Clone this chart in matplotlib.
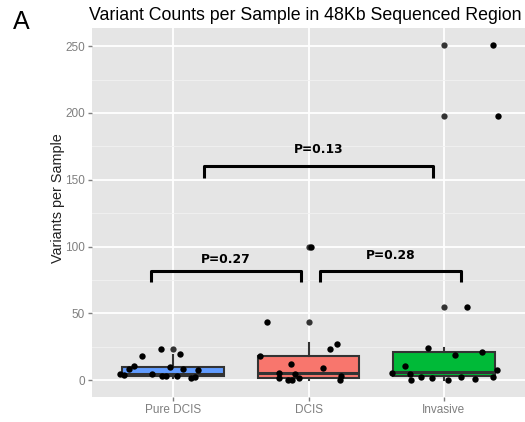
import matplotlib
matplotlib.use('Agg')
import matplotlib.pyplot as plt
from matplotlib.ticker import MultipleLocator

# Categories and colours of the boxes
groups = ["Pure DCIS", "DCIS", "Invasive"]
box_colors = ["#619CFF", "#F8766D", "#00BA38"]

# Box statistics: q1, median, q3, whisker low, whisker high
q1 = [3.5, 2.0, 3.0]
medians = [5.0, 5.5, 6.5]
q3 = [10.0, 18.3, 21.0]
whis_lo = [1.5, 0.0, 0.5]
whis_hi = [19.0, 28.2, 24.3]
outliers = [[23.5], [43.8, 100.0], [55.0, 197.6, 250.5]]

# Jittered sample points: horizontal offset from the category and value
pure_dx = [-0.39, -0.36, -0.33, -0.29, -0.23, -0.16, -0.09, -0.08,
           -0.05, -0.02, 0.03, 0.05, 0.07, 0.13, 0.16, 0.18]
pure_val = [5.0, 3.7, 8.2, 10.5, 18.0, 4.3, 23.5, 2.8,
            3.5, 9.7, 2.8, 19.3, 8.5, 1.5, 2.2, 8.0]
dcis_dx = [-0.31, -0.36, -0.13, -0.22, -0.22, -0.15, -0.12, -0.10,
           -0.07, 0.11, 0.16, 0.21, 0.24, 0.23, 0.015]
dcis_val = [43.8, 18.0, 12.2, 5.5, 1.8, 0.5, 0.0, 4.7,
            1.3, 8.8, 23.5, 27.2, 3.0, 0.0, 100.0]
inv_dx = [-0.38, -0.29, -0.25, -0.24, -0.17, -0.12, -0.09, 0.03, 0.08,
          0.13, 0.23, 0.28, 0.36, 0.39, 0.17, 0.36, 0.40]
inv_val = [5.5, 11.0, 4.7, 0.5, 2.5, 24.3, 1.3, 0.5, 18.8,
           2.5, 0.8, 20.8, 2.5, 7.3, 55.0, 250.5, 197.6]

# P-value comparisons: (left group pos, right group pos, label)
comparisons = [(0.835, 1.946, "P=0.27"), (2.087, 3.124, "P=0.28"), (1.23, 2.92, "P=0.13")]
bracket_top = [82, 82, 160.4]
bracket_leg = [73.3, 73.3, 151.4]
label_y = [90.3, 93.3, 172.9]

plt.rcParams['font.family'] = ['Liberation Sans', 'DejaVu Sans']

fig = plt.figure(figsize=(5.25, 4.22), dpi=100)
ax = fig.add_axes([92 / 525, 25 / 422, 1 - 92 / 525, (397 - 28) / 422])
ax.set_facecolor("#E5E5E5")
for s in ax.spines.values():
    s.set_visible(False)

positions = [1, 2, 3]
stats = []
for i, g in enumerate(groups):
    stats.append(dict(label=g, q1=q1[i], med=medians[i], q3=q3[i],
                      whislo=whis_lo[i], whishi=whis_hi[i], fliers=outliers[i]))

bp = ax.bxp(stats, positions=positions, widths=0.75, patch_artist=True,
            showcaps=False,
            boxprops=dict(edgecolor="#333333", linewidth=1.5),
            medianprops=dict(color="#333333", linewidth=2.2),
            whiskerprops=dict(color="#333333", linewidth=1.5),
            flierprops=dict(marker="o", markerfacecolor="#333333",
                            markeredgecolor="none", markersize=4.5))
for patch, c in zip(bp['boxes'], box_colors):
    patch.set_facecolor(c)
for art in bp['boxes'] + bp['medians'] + bp['whiskers'] + bp['fliers']:
    art.set_zorder(3)

# jittered points
for pos, dx, vals in zip(positions, [pure_dx, dcis_dx, inv_dx], [pure_val, dcis_val, inv_val]):
    ax.scatter([pos + d for d in dx], vals, s=21, color="black", zorder=4, linewidths=0)

# significance brackets
for (x0, x1, lab), yt, yl, ly in zip(comparisons, bracket_top, bracket_leg, label_y):
    ax.plot([x0, x0, x1, x1], [yl, yt, yt, yl], color="black", lw=2.2,
            solid_joinstyle="round", solid_capstyle="butt", zorder=5)
    ax.text((x0 + x1) / 2, ly, lab, ha="center", va="center", fontsize=8.8,
            fontweight="bold", family="DejaVu Sans", zorder=5)

ax.set_xlim(0.4, 3.6)
ax.set_ylim(-12.55, 263.55)
ax.set_xticks(positions)
ax.set_xticklabels(groups)
ax.yaxis.set_major_locator(MultipleLocator(50))
ax.yaxis.set_minor_locator(MultipleLocator(25))
ax.grid(which="major", color="white", linewidth=1.3, zorder=0)
ax.grid(which="minor", axis="y", color="#F2F2F2", linewidth=0.6, zorder=0)
ax.set_axisbelow(True)
ax.tick_params(which="major", length=3, width=1, color="#7F7F7F",
               labelcolor="#7F7F7F", labelsize=8.5, pad=2)
ax.tick_params(which="minor", length=0)

ax.set_ylabel("Variants per Sample", fontsize=10.4, color="#222222")
ax.yaxis.set_label_coords(-0.063, (397 - 198) / 369)

fig.text(305 / 525, 1 - 16 / 422, "Variant Counts per Sample in 48Kb Sequenced Region",
         ha="center", va="center", fontsize=12.8)
fig.text(13 / 525, 1 - 22 / 422, "A", ha="left", va="center", fontsize=18)

fig.savefig("out.png", dpi=100)
